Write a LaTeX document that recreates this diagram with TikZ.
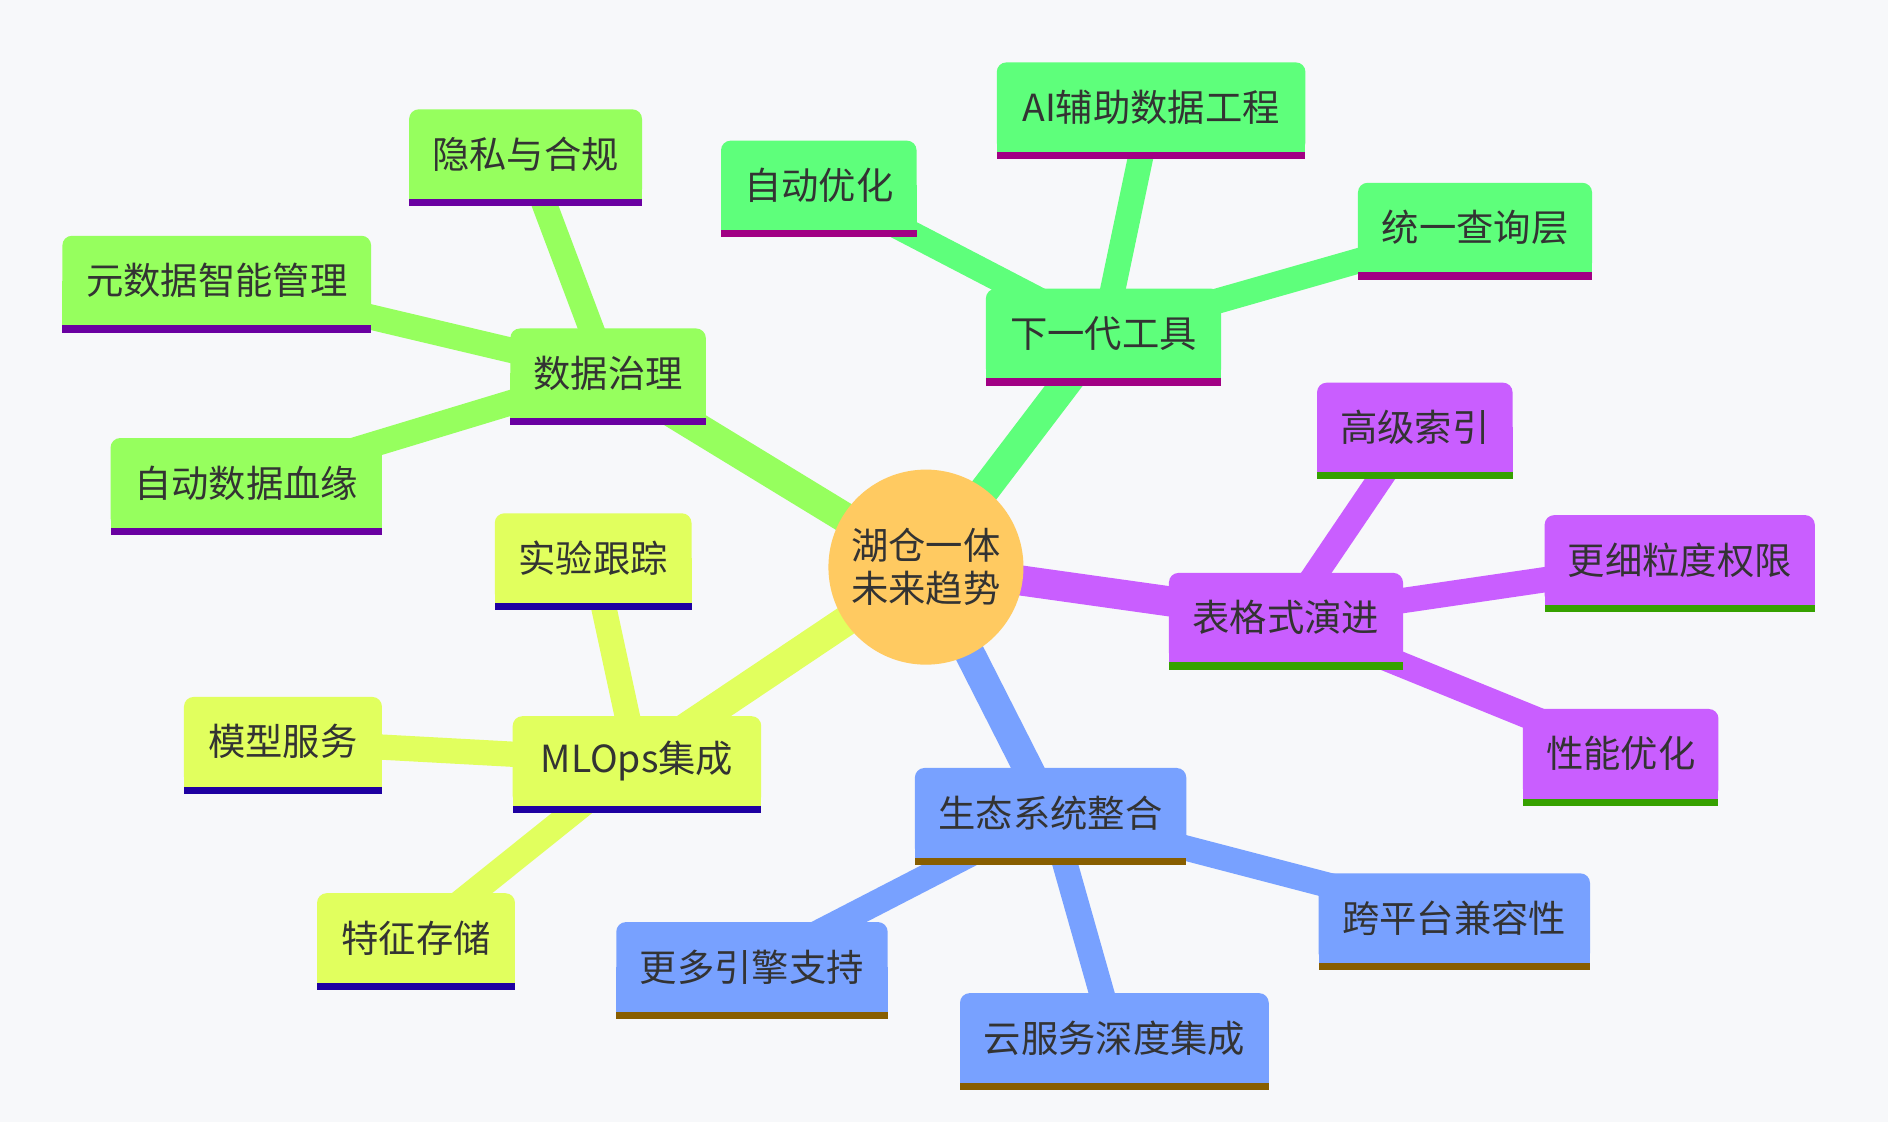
\documentclass[tikz,border=0pt]{standalone}
\usepackage{fontspec}
\setmainfont{Noto Sans CJK SC}
\definecolor{bgc}{HTML}{F7F8FA}
\definecolor{txt}{HTML}{333333}
\definecolor{rootc}{HTML}{FFCA61}
\definecolor{ca}{HTML}{96FF5E}\definecolor{cab}{HTML}{6A00A1}
\definecolor{cb}{HTML}{5EFF7B}\definecolor{cbb}{HTML}{A10084}
\definecolor{cc}{HTML}{C95EFF}\definecolor{ccb}{HTML}{36A100}
\definecolor{cd}{HTML}{78A1FF}\definecolor{cdb}{HTML}{885E00}
\definecolor{ce}{HTML}{E1FF5E}\definecolor{ceb}{HTML}{1E00A1}
\pgfdeclarelayer{bg}\pgfdeclarelayer{edges}\pgfdeclarelayer{boxes}
\pgfsetlayers{bg,edges,boxes,main}
\tikzset{
  mmtext/.style={text=txt, font=\fontsize{31}{36}\selectfont},
  mmbox/.style={rectangle, inner sep=0pt, minimum height=74pt, mmtext},
  rootedge/.style={line width=25pt},
  leafedge/.style={line width=21pt},
}
% name, cx, top, width, fill, bar, text
\newcommand\mmnode[7]{%
  \node[mmbox, minimum width=#4pt] (#1) at (#2,#3+37) {#7};
  \begin{pgfonlayer}{boxes}
    \fill[#5, rounded corners=8pt] (#1.south west) rectangle (#1.north east);
    \fill[#5] (#1.south west) rectangle (#1.east);
    \fill[#6] (#1.south west) rectangle ([yshift=-6pt]#1.south east);
  \end{pgfonlayer}}
\begin{document}
\begin{tikzpicture}[x=1pt,y=-1pt]
\begin{pgfonlayer}{bg}
  \fill[bgc] (0,0) rectangle (1568,932);
\end{pgfonlayer}
\useasboundingbox (0,0) rectangle (1568,932);

\node[circle, fill=rootc, minimum size=162pt, inner sep=0pt, align=center, mmtext] (root) at (769,471) {湖仓一体\\未来趋势};

\mmnode{gov}{505}{273}{162}{ca}{cab}{数据治理}
\mmnode{priv}{436.5}{91}{193}{ca}{cab}{隐私与合规}
\mmnode{meta}{180}{196}{256}{ca}{cab}{元数据智能管理}
\mmnode{lineage}{204.5}{364}{225}{ca}{cab}{自动数据血缘}

\mmnode{tools}{916.5}{240}{195}{cb}{cbb}{下一代工具}
\mmnode{autoopt}{680}{117}{162}{cb}{cbb}{自动优化}
\mmnode{ai}{956}{52}{256}{cb}{cbb}{AI辅助数据工程}
\mmnode{query}{1225}{152}{194}{cb}{cbb}{统一查询层}

\mmnode{table}{1068}{476}{194}{cc}{ccb}{表格式演进}
\mmnode{index}{1175}{318}{162}{cc}{ccb}{高级索引}
\mmnode{perm}{1395}{428}{224}{cc}{ccb}{更细粒度权限}
\mmnode{perf}{1346}{589}{162}{cc}{ccb}{性能优化}

\mmnode{eco}{872.5}{638}{225}{cd}{cdb}{生态系统整合}
\mmnode{engine}{624.5}{766}{225}{cd}{cdb}{更多引擎支持}
\mmnode{cloud}{925.5}{825}{256}{cd}{cdb}{云服务深度集成}
\mmnode{cross}{1207.8}{725.5}{225}{cd}{cdb}{跨平台兼容性}

\mmnode{mlops}{529}{595}{206}{ce}{ceb}{MLOps集成}
\mmnode{exp}{492.6}{426.5}{163}{ce}{ceb}{实验跟踪}
\mmnode{serve}{235}{579}{164}{ce}{ceb}{模型服务}
\mmnode{feat}{345.5}{742}{164}{ce}{ceb}{特征存储}

\begin{pgfonlayer}{edges}
  \draw[leafedge, ca] (gov.center) -- (priv.center);
  \draw[leafedge, ca] (gov.center) -- (meta.center);
  \draw[leafedge, ca] (gov.center) -- (lineage.center);
  \draw[leafedge, cb] (tools.center) -- (autoopt.center);
  \draw[leafedge, cb] (tools.center) -- (ai.center);
  \draw[leafedge, cb] (tools.center) -- (query.center);
  \draw[leafedge, cc] (table.center) -- (index.center);
  \draw[leafedge, cc] (table.center) -- (perm.center);
  \draw[leafedge, cc] (table.center) -- (perf.center);
  \draw[leafedge, cd] (eco.center) -- (engine.center);
  \draw[leafedge, cd] (eco.center) -- (cloud.center);
  \draw[leafedge, cd] (eco.center) -- (cross.center);
  \draw[leafedge, ce] (mlops.center) -- (exp.center);
  \draw[leafedge, ce] (mlops.center) -- (serve.center);
  \draw[leafedge, ce] (mlops.center) -- (feat.center);
  \draw[rootedge, ca] (root.center) -- (gov.center);
  \draw[rootedge, cb] (root.center) -- (tools.center);
  \draw[rootedge, cc] (root.center) -- (table.center);
  \draw[rootedge, cd] (root.center) -- (eco.center);
  \draw[rootedge, ce] (root.center) -- (mlops.center);
\end{pgfonlayer}
\end{tikzpicture}
\end{document}
